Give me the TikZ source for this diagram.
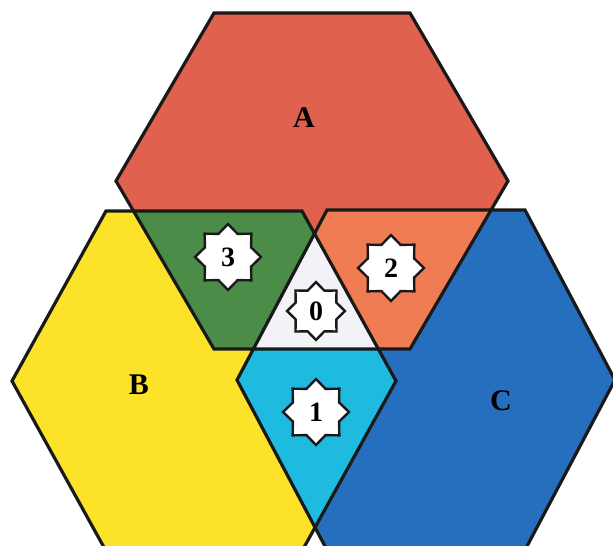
\documentclass[tikz,border=0pt]{standalone}
\usepackage{fontspec}
\setmainfont{Liberation Serif}
\usetikzlibrary{shapes.geometric}
\definecolor{cA}{RGB}{224,97,78}
\definecolor{cB}{RGB}{253,226,42}
\definecolor{cC}{RGB}{38,110,190}
\definecolor{cAB}{RGB}{74,140,72}
\definecolor{cAC}{RGB}{240,124,84}
\definecolor{cBC}{RGB}{30,186,224}
\definecolor{cABC}{RGB}{242,242,247}
\tikzset{
  hexline/.style={draw=black!90, line width=3.2pt, line join=miter},
  starlabel/.style={star, star points=8, star point ratio=1.32, draw=black!90, fill=white,
    line width=2.4pt, inner sep=0pt, minimum size=66pt,
    font=\fontsize{28}{28}\selectfont\bfseries},
  biglabel/.style={font=\fontsize{30}{30}\selectfont\bfseries, inner sep=0pt}
}
\def\hexA{(214,13) -- (410,13) -- (508,181) -- (410,349) -- (214,349) -- (116,181) -- cycle}
\def\hexB{(106,211) -- (302,211) -- (396,381) -- (302,551) -- (106,551) -- (12,381) -- cycle}
\def\hexC{(327,210) -- (525,210) -- (615,380) -- (525,550) -- (327,550) -- (237,380) -- cycle}
\begin{document}
\begin{tikzpicture}[x=1pt,y=-1pt]
\useasboundingbox (0,0) rectangle (613,546);
\begin{scope}
\clip (0,0) rectangle (613,546);
\fill[cA] \hexA;
\fill[cB] \hexB;
\fill[cC] \hexC;
\begin{scope}
  \clip \hexA;
  \fill[cAB] \hexB;
  \fill[cAC] \hexC;
  \clip \hexB;
  \fill[cABC] \hexC;
\end{scope}
\begin{scope}
  \clip \hexB;
  \clip \hexC;
  \fill[cBC] (0,349) rectangle (613,546);
\end{scope}
\draw[hexline] \hexA;
\draw[hexline] \hexB;
\draw[hexline] \hexC;
\end{scope}
\node[biglabel] (la) at (304,118) {A};
\node[biglabel] (lb) at (139,385) {B};
\node[biglabel] (lc) at (501,401) {C};
\node[starlabel] (s3) at (228,257) {3};
\node[starlabel] (s2) at (391,268) {2};
\node[starlabel, minimum size=58pt] (s0) at (316,311) {0};
\node[starlabel] (s1) at (316,412) {1};
\end{tikzpicture}
\end{document}
